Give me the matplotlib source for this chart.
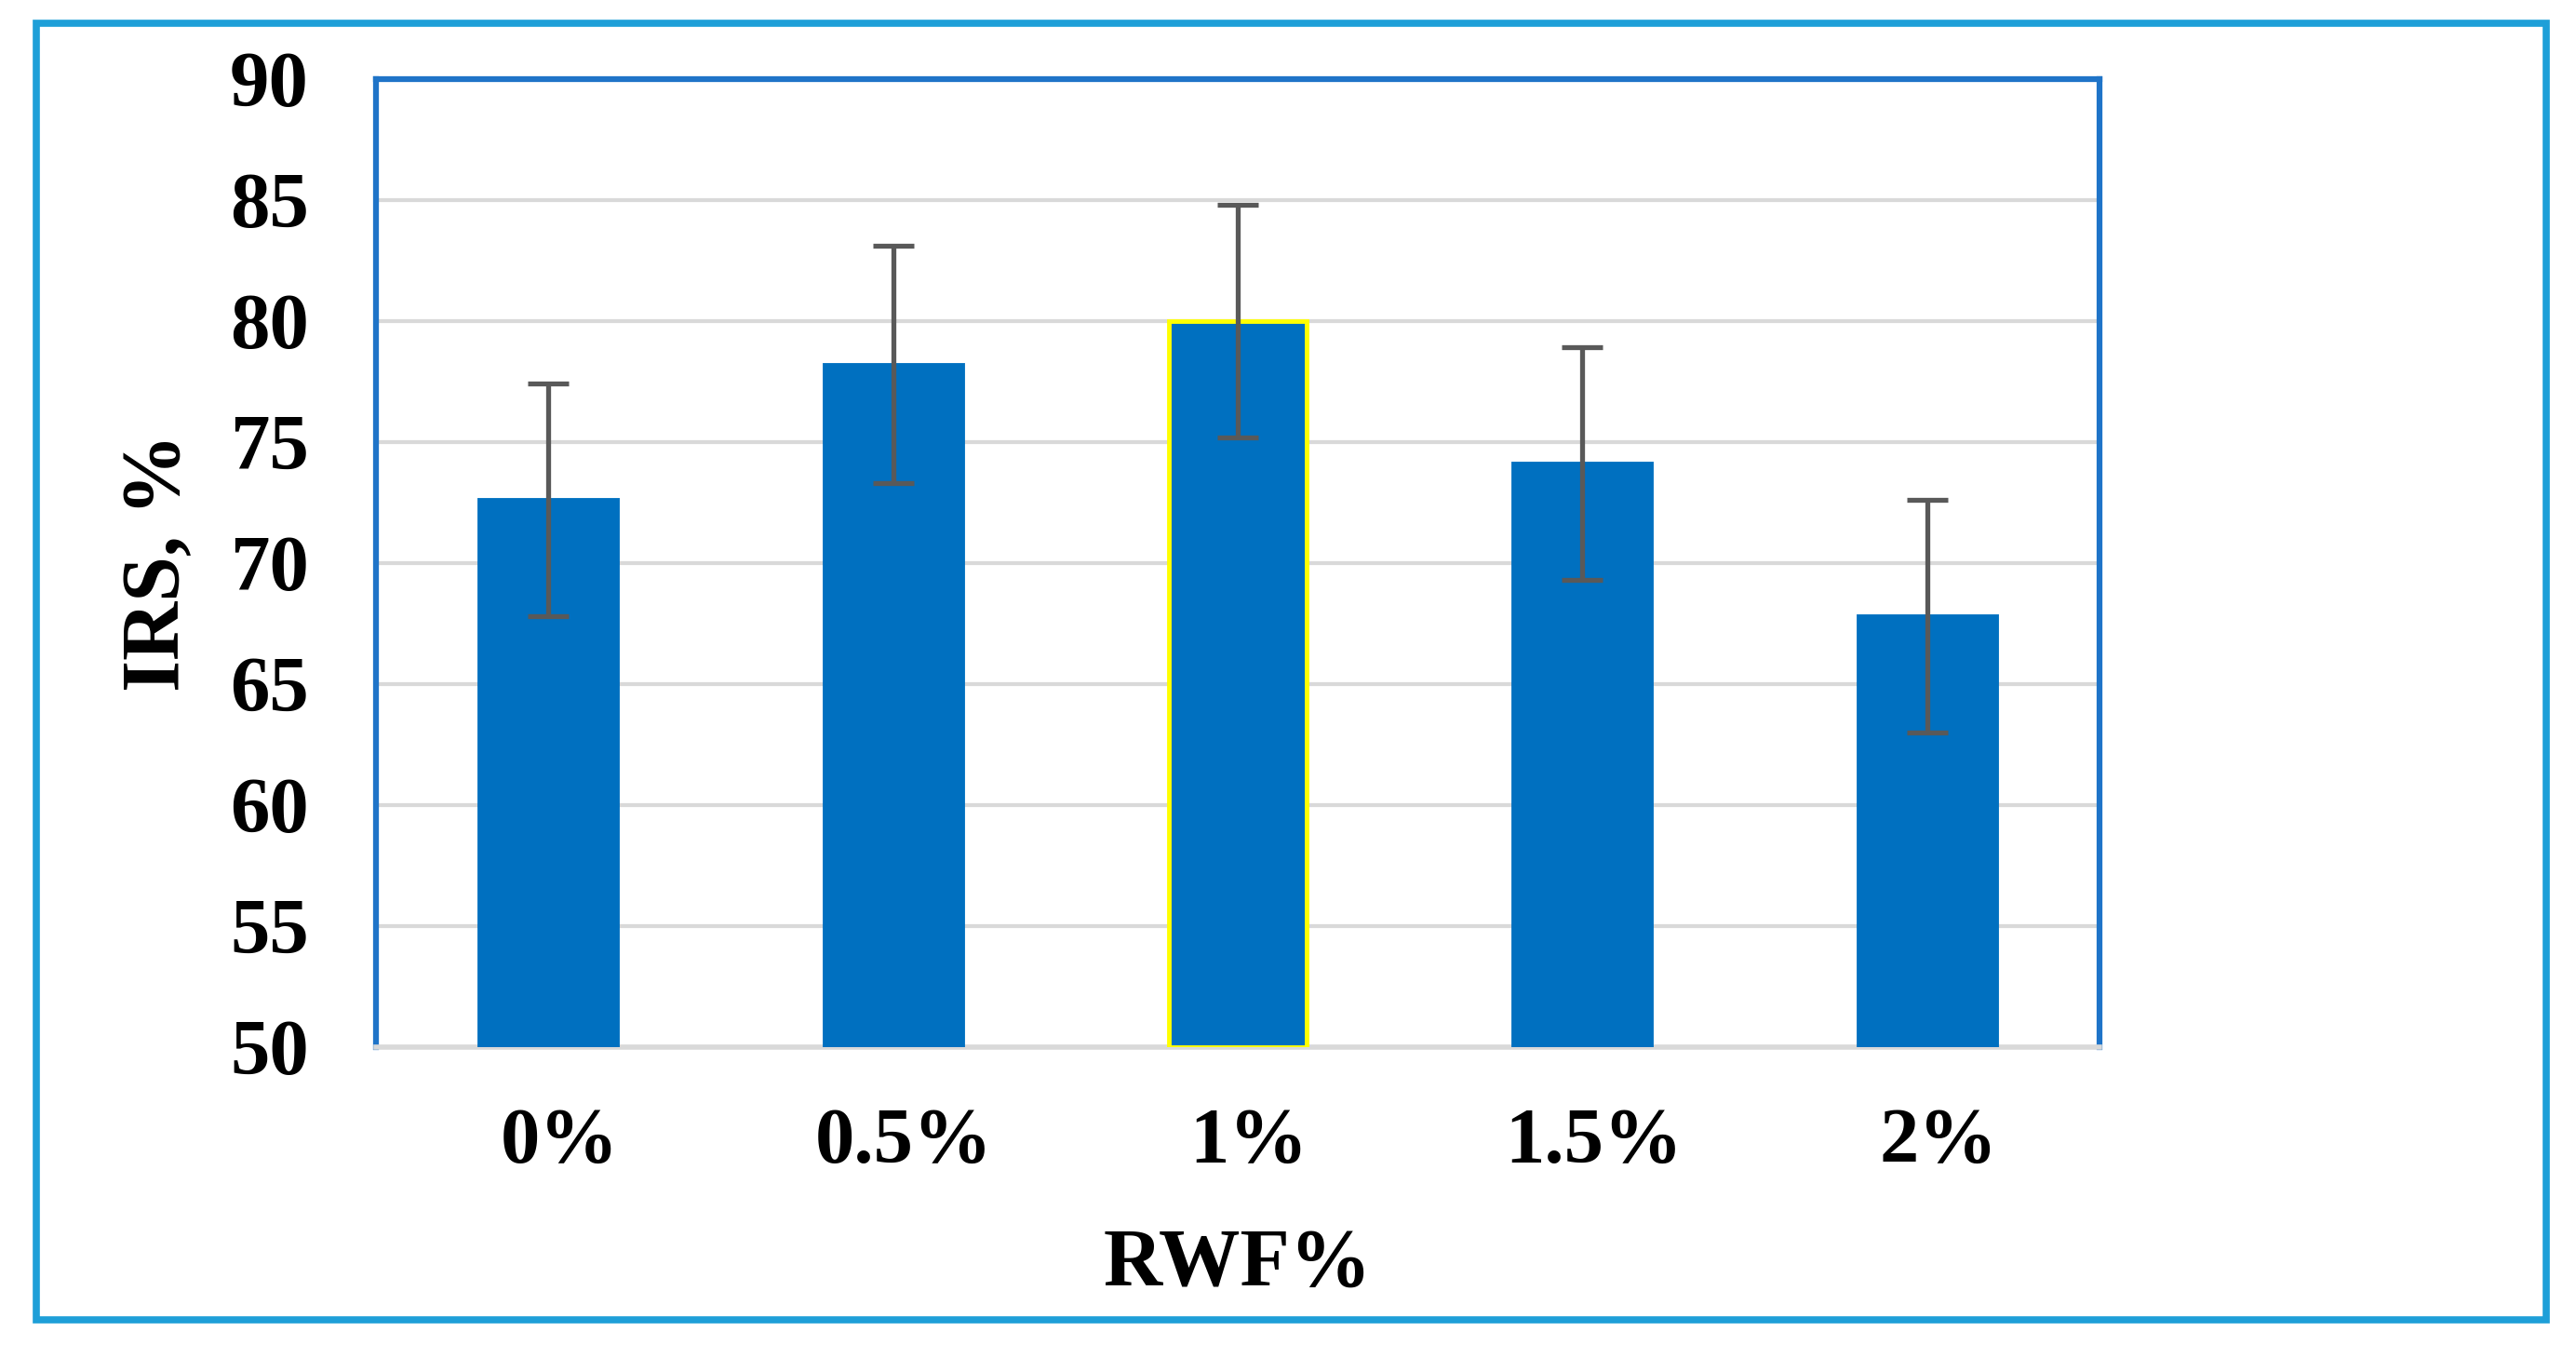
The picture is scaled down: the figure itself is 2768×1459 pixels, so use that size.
import matplotlib
matplotlib.use("Agg")
import matplotlib.pyplot as plt
from matplotlib.patches import Rectangle
from matplotlib.transforms import ScaledTranslation

categories = ["0%", "0.5%", "1%", "1.5%", "2%"]
values = [72.6, 78.2, 80.0, 74.1, 67.8]
errors = [4.8, 4.9, 4.8, 4.8, 4.8]
yticks = [50, 55, 60, 65, 70, 75, 80, 85, 90]

plt.rcParams['font.family'] = ['Liberation Serif', 'DejaVu Serif']
plt.rcParams['font.weight'] = 'bold'

W, H, DPI = 2768, 1459, 100
fig = plt.figure(figsize=(W / DPI, H / DPI), dpi=DPI)
fig.patch.set_facecolor('white')

ax = fig.add_axes([0.146, 0.229, 0.669, 0.713])

x = list(range(len(categories)))
edgecolors = ['#0070C0', '#0070C0', '#FFFF00', '#0070C0', '#0070C0']
ax.bar(x, [v - 50 for v in values], bottom=50, width=0.4, color='#0070C0',
       edgecolor=edgecolors, linewidth=3.5, zorder=3)
ax.errorbar(x, values, yerr=errors, fmt='none', ecolor='#595959',
            elinewidth=3.8, capsize=15.5, capthick=3.8, zorder=4)

ax.set_xlim(-0.5, 4.5)
ax.set_ylim(50, 90)
ax.set_yticks(yticks)
ax.set_yticklabels([str(t) for t in yticks])
ax.set_xticks(x)
ax.set_xticklabels(categories)

ax.yaxis.grid(True, color='#D9D9D9', linewidth=3, zorder=0)
ax.set_axisbelow(True)

for side in ['left', 'top', 'right']:
    ax.spines[side].set_color('#1F74C8')
    ax.spines[side].set_linewidth(4.5)
ax.spines['bottom'].set_color('#D9D9D9')
ax.spines['bottom'].set_linewidth(4)

ax.tick_params(axis='y', length=0, pad=52, labelsize=61)
ax.tick_params(axis='x', length=0, pad=47, labelsize=61)
offset = ScaledTranslation(12 / DPI, 0, fig.dpi_scale_trans)
for lbl in ax.get_xticklabels():
    lbl.set_fontweight('bold')
    lbl.set_transform(lbl.get_transform() + offset)
for lbl in ax.get_yticklabels():
    lbl.set_fontweight('bold')

ax.set_xlabel('RWF%', fontsize=63, fontweight='bold')
ax.set_ylabel('IRS, %', fontsize=63, fontweight='bold')
ax.xaxis.set_label_coords(0.5, -0.186)
ax.yaxis.set_label_coords(-0.104, 0.5)

border = Rectangle((0.014, 0.028), 0.9745, 0.955, transform=fig.transFigure,
                   fill=False, edgecolor='#1E9FD8', linewidth=5.5)
fig.patches.append(border)

fig.savefig('out.png', dpi=DPI)
